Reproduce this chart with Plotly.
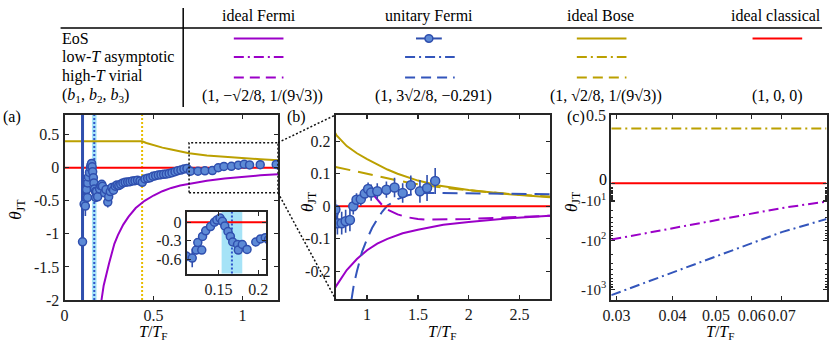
import plotly.graph_objects as go
import math

# ---------------- data ----------------
# unitary Fermi measurement: cluster near the transition
T_meas_a = [0.110, 0.117, 0.122, 0.124, 0.129, 0.130, 0.134, 0.140, 0.145, 0.148, 0.152, 0.155,
            0.158, 0.162, 0.165, 0.168, 0.174, 0.175, 0.180, 0.186, 0.197, 0.203, 0.209]
theta_meas_a = [-0.55, -0.58, -0.45, -0.33, -0.45, -0.23, -0.14, -0.07, 0.00, 0.035, 0.066, 0.015,
                -0.06, -0.15, -0.23, -0.32, -0.36, -0.45, -0.36, -0.44, -0.32, -0.27, -0.25]
err_meas_a = [0.08, 0.15, 0.07, 0.05, 0.06, 0.05, 0.04, 0.04, 0.03, 0.03, 0.03, 0.03,
              0.03, 0.03, 0.03, 0.03, 0.03, 0.04, 0.03, 0.04, 0.03, 0.03, 0.03]
# intermediate temperatures
T_meas_b = [0.213, 0.225, 0.233, 0.243, 0.248, 0.257, 0.266, 0.275, 0.285, 0.295,
            0.305, 0.316, 0.328, 0.341, 0.355, 0.368, 0.382, 0.396, 0.410, 0.424,
            0.437, 0.452, 0.467, 0.482, 0.497, 0.512, 0.527, 0.542, 0.557, 0.572,
            0.588, 0.604, 0.621, 0.637, 0.654, 0.671, 0.688]
theta_meas_b = [-0.28, -0.38, -0.33, -0.52, -0.44, -0.36, -0.30, -0.34, -0.28, -0.26,
                -0.27, -0.25, -0.23, -0.22, -0.215, -0.21, -0.20, -0.195, -0.19, -0.20,
                -0.22, -0.17, -0.16, -0.15, -0.13, -0.12, -0.11, -0.105, -0.10, -0.095,
                -0.085, -0.075, -0.06, -0.045, -0.035, -0.02, -0.01]
err_meas_b = [0.04, 0.04, 0.04, 0.08, 0.04, 0.04, 0.04, 0.04, 0.03, 0.03,
              0.03, 0.03, 0.03, 0.03, 0.03, 0.03, 0.03, 0.03, 0.03, 0.03,
              0.03, 0.03, 0.03, 0.03, 0.03, 0.03, 0.03, 0.03, 0.03, 0.03,
              0.03, 0.03, 0.03, 0.03, 0.03, 0.03, 0.03]
# high temperatures
T_meas_c = [0.708, 0.750, 0.789, 0.831, 0.864, 0.896, 0.938, 0.977, 1.010, 1.040, 1.100, 1.190,
            1.270, 1.350, 1.430, 1.520, 1.590, 1.670]
theta_meas_c = [-0.052, -0.052, -0.046, -0.042, 0.000, 0.020, 0.022, 0.039, 0.053, 0.042, 0.046, 0.051,
                0.058, 0.041, 0.065, 0.046, 0.056, 0.078]
err_meas_c = [0.035, 0.035, 0.035, 0.035, 0.025, 0.02, 0.02, 0.02, 0.02, 0.025, 0.025, 0.025,
              0.03, 0.03, 0.03, 0.035, 0.04, 0.04]
# lowest-temperature point (huge error bar)
T_meas_low = [0.101]
theta_meas_low = [-1.12]
err_meas_low = [4.0]

# transition temperatures
T_c, T_c_lo, T_c_hi = 0.167, 0.154, 0.180
T_bec = 0.436

# ideal Bose EoS
T_bose = [0.0, 0.436, 0.46, 0.5, 0.55, 0.6, 0.65, 0.7, 0.8, 0.9, 1.0, 1.1, 1.2, 1.3, 1.4, 1.5, 1.7, 2.0, 2.4, 2.8]
theta_bose = [0.40, 0.40, 0.375, 0.34, 0.305, 0.275, 0.245, 0.218, 0.185, 0.163, 0.145, 0.128, 0.113,
              0.100, 0.089, 0.079, 0.064, 0.050, 0.037, 0.028]
# ideal Fermi EoS
T_fermi = [0.205, 0.22, 0.25, 0.28, 0.3, 0.33, 0.36, 0.4, 0.45, 0.5, 0.55, 0.6, 0.65, 0.7, 0.8, 0.9, 1.0,
           1.1, 1.2, 1.35, 1.5, 1.75, 2.0, 2.4, 2.8]
theta_fermi = [-2.05, -1.78, -1.45, -1.15, -1.02, -0.86, -0.74, -0.61, -0.50, -0.42, -0.355, -0.305, -0.27,
               -0.243, -0.196, -0.162, -0.135, -0.115, -0.100, -0.083, -0.072, -0.057, -0.048, -0.037, -0.029]
# ideal classical
T_class = [0.0, 2.8]
theta_class = [0.0, 0.0]
# high-T virial expansions
T_vir_bose = [0.69, 0.8, 0.9, 1.0, 1.1, 1.2, 1.3, 1.4, 1.5, 1.7, 2.0, 2.4, 2.8]
theta_vir_bose = [0.121, 0.114, 0.107, 0.100, 0.093, 0.086, 0.079, 0.073, 0.068, 0.059, 0.049, 0.038, 0.030]
T_vir_fermi = [1.05, 1.1, 1.15, 1.2, 1.3, 1.4, 1.5, 1.6, 1.8, 2.0, 2.4, 2.8]
theta_vir_fermi = [0.040, 0.020, 0.003, -0.010, -0.025, -0.034, -0.039, -0.041, -0.041, -0.039, -0.034, -0.029]
T_vir_unit = [0.845, 0.87, 0.9, 0.95, 1.0, 1.05, 1.1, 1.15, 1.2, 1.3, 1.4, 1.5, 1.6, 1.8, 2.0, 2.4, 2.8]
theta_vir_unit = [-0.29, -0.24, -0.20, -0.14, -0.10, -0.066, -0.040, -0.016, 0.002, 0.022, 0.034, 0.040,
                  0.041, 0.040, 0.039, 0.038, 0.037]
# low-T asymptotics (panel c)
T_lowT = [0.0292, 0.04, 0.05, 0.06, 0.07, 0.0881]
theta_lowT_fermi = [-96.7, -54.4, -35.3, -24.0, -16.9, -10.5]
theta_lowT_unit = [-1310.0, -459.0, -217.0, -115.0, -66.6, -33.0]
T_lowT_bose = [0.0292, 0.0881]
theta_lowT_bose = [0.4, 0.4]
T_c_range = [0.0292, 0.0881]

# axis ticks
ticks_a_x = [0, 0.5, 1]
ticks_a_y = [-2, -1.5, -1, -0.5, 0, 0.5]
ticks_b_x = [1, 1.5, 2, 2.5]
ticks_b_y = [-0.2, -0.1, 0, 0.1, 0.2]
ticks_c_x = [0.03, 0.04, 0.05, 0.06, 0.07]
ticks_c_up = [0, 0.5]
ticks_c_lo = [10, 100, 1000]
ticks_in_x = [0.15, 0.2]
ticks_in_y = [-0.6, -0.3, 0]

# ---------------- styling ----------------
W, H = 830, 353
FONT = "Liberation Serif, Times New Roman, Times, DejaVu Serif, serif"
AX = "#262626"
PURPLE = "#9b00c8"
BLUE = "#2f4fae"
BLUE_FILL = "#5d8ad6"
GOLD = "#bba000"
RED = "#ff0000"
BAND = "#a6e3f7"
SYMLOG_C = 8.0  # offset used for the symmetric-log lower half of panel (c)


def fx(p):
    return p / W


def fy(p):
    return 1 - p / H


def lbl(v):
    return "%g" % v


A_x = [fx(61), fx(276)]
A_y = [fy(306.7), fy(112.3)]
B_x = [fx(334), fx(550)]
B_y = [fy(305.7), fy(112.3)]
C_x = [fx(611.7), fx(828.5)]
C_up = [fy(186), fy(112.3)]
C_lo = [fy(306.7), fy(186)]
I_x = [fx(184), fx(264)]
I_y = [fy(279), fy(214)]

A_range_x = [0, 1.2]
A_range_y = [-2, 0.8]
C_range_x = [math.log10(T_c_range[0]), math.log10(T_c_range[1])]

T_all = T_meas_a + T_meas_b + T_meas_c
th_all = theta_meas_a + theta_meas_b + theta_meas_c
er_all = err_meas_a + err_meas_b + err_meas_c

fig = go.Figure()


def data_trace(xa, ya, size=8):
    return go.Scatter(x=T_all, y=th_all, xaxis=xa, yaxis=ya, mode="markers",
                      marker=dict(size=size, color=BLUE_FILL, line=dict(color=BLUE, width=1.5)),
                      error_y=dict(type="data", array=er_all, color=BLUE, thickness=1.6, width=0),
                      showlegend=False, hoverinfo="skip")


def line_trace(x, y, xa, ya, color, dash="solid", width=2):
    return go.Scatter(x=x, y=y, xaxis=xa, yaxis=ya, mode="lines",
                      line=dict(color=color, width=width, dash=dash), showlegend=False, hoverinfo="skip")


# panel (a)
fig.add_trace(line_trace(T_bose, theta_bose, "x", "y", GOLD))
fig.add_trace(line_trace(T_fermi, theta_fermi, "x", "y", PURPLE))
fig.add_trace(line_trace(T_class, theta_class, "x", "y", RED))
fig.add_trace(go.Scatter(x=T_meas_low, y=theta_meas_low, xaxis="x", yaxis="y", mode="markers",
                         marker=dict(size=8, color=BLUE_FILL, line=dict(color=BLUE, width=1.5)),
                         error_y=dict(type="data", array=err_meas_low, color=BLUE, thickness=3, width=0),
                         showlegend=False, hoverinfo="skip"))
fig.add_trace(data_trace("x", "y"))

# inset
fig.add_trace(line_trace(T_class, theta_class, "x5", "y5", RED))
fig.add_trace(data_trace("x5", "y5"))

# panel (b)
DASH_B = "15px,8px"
fig.add_trace(line_trace(T_bose, theta_bose, "x2", "y2", GOLD))
fig.add_trace(line_trace(T_vir_bose, theta_vir_bose, "x2", "y2", GOLD, DASH_B))
fig.add_trace(line_trace(T_fermi, theta_fermi, "x2", "y2", PURPLE))
fig.add_trace(line_trace(T_vir_fermi, theta_vir_fermi, "x2", "y2", PURPLE, DASH_B))
fig.add_trace(line_trace(T_vir_unit, theta_vir_unit, "x2", "y2", "#3355bb", DASH_B))
fig.add_trace(line_trace(T_class, theta_class, "x2", "y2", RED))
fig.add_trace(data_trace("x2", "y2", 9))

# panel (c)
DASHDOT = "10px,4px,2px,4px"
fig.add_trace(line_trace(T_lowT_bose, theta_lowT_bose, "x3", "y3", GOLD, DASHDOT))
fig.add_trace(line_trace(T_c_range, [0, 0], "x3", "y3", RED))
fig.add_trace(line_trace(T_lowT, [abs(v) + SYMLOG_C for v in theta_lowT_fermi], "x4", "y4", PURPLE, DASHDOT))
fig.add_trace(line_trace(T_lowT, [abs(v) + SYMLOG_C for v in theta_lowT_unit], "x4", "y4", "#3355bb", DASHDOT))

tickfont = dict(family=FONT, size=16, color="#1a1a1a")
common = dict(showline=True, linecolor=AX, linewidth=2, ticks="inside", ticklen=4, tickwidth=1.2,
              tickcolor=AX, showgrid=False, zeroline=False, tickfont=tickfont, mirror="ticks")

fig.update_layout(
    width=W, height=H, margin=dict(l=0, r=0, t=0, b=0),
    paper_bgcolor="white", plot_bgcolor="rgba(0,0,0,0)", showlegend=False,
    font=dict(family=FONT, size=16, color="black"),
    xaxis=dict(common, domain=A_x, anchor="y", range=A_range_x, tickvals=ticks_a_x,
               ticktext=[lbl(v) for v in ticks_a_x]),
    yaxis=dict(common, domain=A_y, anchor="x", range=A_range_y, tickvals=ticks_a_y,
               ticktext=[lbl(v) for v in ticks_a_y]),
    xaxis2=dict(common, domain=B_x, anchor="y2", range=[0.69, 2.8], tickvals=ticks_b_x,
                ticktext=[lbl(v) for v in ticks_b_x]),
    yaxis2=dict(common, domain=B_y, anchor="x2", range=[-0.285, 0.281], tickvals=ticks_b_y,
                ticktext=[lbl(v) for v in ticks_b_y]),
    xaxis3=dict(common, domain=C_x, anchor="y3", type="log", side="top", mirror=False,
                range=C_range_x, tickvals=ticks_c_x, showticklabels=False),
    yaxis3=dict(common, domain=C_up, anchor="x3", range=[-0.0139, 0.5], tickvals=ticks_c_up,
                ticktext=["" if v == 0 else lbl(v) for v in ticks_c_up]),
    xaxis4=dict(common, domain=C_x, anchor="y4", type="log", mirror=False,
                range=C_range_x, tickvals=ticks_c_x,
                ticktext=[lbl(v) for v in ticks_c_x]),
    yaxis4=dict(common, domain=C_lo, anchor="x4", type="log",
                range=[math.log10(1638), math.log10(8.72)],
                tickvals=[v + SYMLOG_C for v in ticks_c_lo],
                ticktext=["-10<sup>%d</sup>" % round(math.log10(v)) for v in ticks_c_lo],
                tickfont=dict(family=FONT, size=15, color="#1a1a1a"),
                minor=dict(ticks="inside", ticklen=2, tickcolor=AX,
                           tickvals=[k * 10 ** n + SYMLOG_C for n in (0, 1, 2) for k in range(1, 10)])),
    xaxis5=dict(common, domain=I_x, anchor="y5", range=[0.11, 0.21], tickvals=ticks_in_x,
                ticktext=[lbl(v) for v in ticks_in_x]),
    yaxis5=dict(common, domain=I_y, anchor="x5", range=[-0.83, 0.17], tickvals=ticks_in_y,
                ticktext=[lbl(v) for v in ticks_in_y]),
)

shapes = []
# transition markers in (a) and inset
for xr, yr in (("x", "y domain"), ("x5", "y5 domain")):
    shapes.append(dict(type="rect", xref=xr, yref=yr, x0=T_c_lo, x1=T_c_hi, y0=0, y1=1,
                       fillcolor=BAND, line=dict(width=0), layer="below"))
    shapes.append(dict(type="line", xref=xr, yref=yr, x0=T_c, x1=T_c, y0=0, y1=1,
                       line=dict(color="#2f55cc", width=2, dash="2px,2px"), layer="below"))
shapes.append(dict(type="line", xref="x", yref="y domain", x0=T_bec, x1=T_bec, y0=0, y1=1,
                   line=dict(color="#e8bc00", width=2, dash="2px,2px"), layer="below"))
# zoom box in (a) and connectors to (b)
box_x = [0.7, 1.2]
box_y = [-0.38, 0.38]
shapes.append(dict(type="rect", xref="x", yref="y", x0=box_x[0], x1=box_x[1], y0=box_y[0], y1=box_y[1],
                   line=dict(color="#111111", width=1.5, dash="2px,2px")))


def a_paper(xv, yv):
    px_ = A_x[0] + (xv - A_range_x[0]) / (A_range_x[1] - A_range_x[0]) * (A_x[1] - A_x[0])
    py_ = A_y[0] + (yv - A_range_y[0]) / (A_range_y[1] - A_range_y[0]) * (A_y[1] - A_y[0])
    return px_, py_


p1 = a_paper(box_x[1], box_y[1])
p2 = a_paper(box_x[1], box_y[0])
shapes.append(dict(type="line", xref="paper", yref="paper", x0=p1[0], y0=p1[1], x1=B_x[0], y1=B_y[1],
                   line=dict(color="#111111", width=1.5, dash="2px,2px")))
shapes.append(dict(type="line", xref="paper", yref="paper", x0=p2[0], y0=p2[1], x1=B_x[0], y1=B_y[0],
                   line=dict(color="#111111", width=1.5, dash="2px,2px")))

# table rules
shapes.append(dict(type="line", xref="paper", yref="paper", x0=fx(57), x1=fx(824), y0=fy(21), y1=fy(21),
                   line=dict(color="black", width=1.5)))
shapes.append(dict(type="line", xref="paper", yref="paper", x0=fx(180.5), x1=fx(180.5), y0=fy(0), y1=fy(104),
                   line=dict(color="black", width=1.5)))

# legend samples
ROW_Y = [32, 51.5, 73]
LEG_DASH = ["solid", "10px,4px,2px,4px", "10px,6px"]
for cx, col, rows in ((256.5, PURPLE, 3), (429, "#3355bb", 3), (602, GOLD, 3), (779, RED, 1)):
    for i in range(rows):
        if col == "#3355bb" and i == 0:
            continue
        shapes.append(dict(type="line", xref="paper", yref="paper", x0=fx(cx - 25), x1=fx(cx + 25),
                           y0=fy(ROW_Y[i]), y1=fy(ROW_Y[i]), line=dict(color=col, width=2, dash=LEG_DASH[i])))
# unitary Fermi data sample
shapes.append(dict(type="line", xref="paper", yref="paper", x0=fx(415), x1=fx(441), y0=fy(32), y1=fy(32),
                   line=dict(color=BLUE, width=2)))
shapes.append(dict(type="circle", xref="paper", yref="paper", x0=fx(424), x1=fx(432), y0=fy(28), y1=fy(36),
                   fillcolor=BLUE_FILL, line=dict(color=BLUE, width=1.5)))
fig.update_layout(shapes=shapes)

ann = []


def text(x, y, s, size=16, xanchor="center", angle=0):
    ann.append(dict(x=fx(x), y=fy(y), xref="paper", yref="paper", text=s, showarrow=False,
                    xanchor=xanchor, yanchor="middle", textangle=angle,
                    font=dict(family=FONT, size=size, color="black")))


# table text
text(256.7, 8, "ideal Fermi")
text(428, 8, "unitary Fermi")
text(601, 8, "ideal Bose")
text(778, 8, "ideal classical")
text(56, 32, "EoS", xanchor="left")
text(56, 51.5, "low-<i>T</i> asymptotic", xanchor="left")
text(56, 71, "high-<i>T</i> virial", xanchor="left")
text(56, 92, "(<i>b</i><sub>1</sub>, <i>b</i><sub>2</sub>, <i>b</i><sub>3</sub>)", xanchor="left")
text(260, 92, "(1, −√2/8, 1/(9√3))")
text(433, 92, "(1, 3√2/8, −0.291)")
text(606, 92, "(1, √2/8, 1/(9√3))")
text(779, 92, "(1, 0, 0)")
# panel labels
text(8, 114, "(a)")
text(295, 114, "(b)")
text(576, 114, "(c)")
# zero label of panel (c), lifted slightly above its tick
text(609, 180.5, "0", 16, xanchor="right")
# axis titles
XT = "<i>T</i>/<i>T</i><sub>F</sub>"
YT = "<i>θ</i><sub>JT</sub>"
text(151, 341, XT, 16)
text(442, 341, XT, 16)
text(722, 341, XT, 16)
text(13, 211, YT, 17, angle=-90)
text(307, 203, YT, 17, angle=-90)
text(573, 203, YT, 17, angle=-90)
fig.update_layout(annotations=ann)

fig.write_html("out.html", config={"displayModeBar": False, "staticPlot": True},
               post_script="document.body.style.margin='0';document.body.style.padding='0';"
                           "document.body.style.overflow='hidden';")
